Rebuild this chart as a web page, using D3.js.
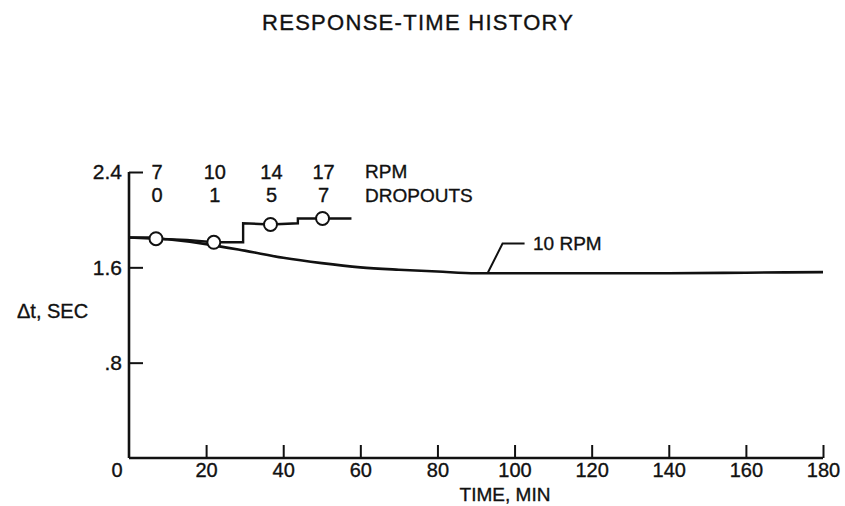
<!DOCTYPE html>
<html>
<head>
<meta charset="utf-8">
<script src="https://cdn.jsdelivr.net/npm/d3@7"></script>
<style>
  html, body { margin: 0; padding: 0; background: #fff; }
  svg { display: block; }
  text { font-family: "Liberation Sans", "DejaVu Sans", sans-serif; fill: #111; stroke: #111; stroke-width: 0.35; }
</style>
</head>
<body>
<svg id="chart" width="845" height="506"></svg>
<script>
// Response time vs. elapsed time at a constant 10 RPM
const curveTime  = [0, 5, 10, 20, 30, 40, 50, 60, 70, 80, 90, 100, 120, 140, 160, 180];
const curveDelta = [1.85, 1.85, 1.835, 1.795, 1.74, 1.68, 1.635, 1.60, 1.58, 1.565, 1.55, 1.55, 1.55, 1.55, 1.555, 1.56];

// Stepped run with increasing speed (time, Δt) and the measured points on it
const stepTime  = [0, 7, 15, 22, 29.6, 29.6, 36.7, 43.8, 43.8, 50.2, 57.7];
const stepDelta = [1.85, 1.84, 1.83, 1.81, 1.81, 1.97, 1.96, 1.97, 2.01, 2.01, 2.01];
const pointTime  = [7, 22, 36.7, 50.2];
const pointDelta = [1.84, 1.81, 1.96, 2.01];

// Speed and dropout counts written above each measured point
const rpmLabels     = ["7", "10", "14", "17"];
const dropoutLabels = ["0", "1", "5", "7"];

// Axis ticks
const xTicks = [20, 40, 60, 80, 100, 120, 140, 160, 180];
const yTicks = [0.8, 1.6, 2.4];
const yTickLabels = [".8", "1.6", "2.4"];

const svg = d3.select("#chart");
const x = d3.scaleLinear().domain([0, 180]).range([129, 823]);
const y = d3.scaleLinear().domain([0, 2.4]).range([458, 172]);
const FS = 20;

// Title
svg.append("text").attr("x", 262).attr("y", 30)
  .attr("font-size", 22).attr("textLength", 311).attr("lengthAdjust", "spacing")
  .text("RESPONSE-TIME HISTORY");

// X axis, ticks pointing up into the plot
const xAxis = svg.append("g").attr("transform", `translate(0,${y(0)})`)
  .call(d3.axisBottom(x).tickValues(xTicks).tickSize(-13).tickPadding(5).tickFormat(d3.format("d")));
xAxis.select(".domain").attr("d", `M${x(0)},0H${x(180)}`).attr("stroke", "#111").attr("stroke-width", 2.6);
xAxis.selectAll(".tick line").attr("stroke", "#111").attr("stroke-width", 2);
xAxis.selectAll(".tick text").attr("font-size", FS).attr("font-family", null).attr("fill", "#111");
xAxis.append("text").attr("x", x(0) - 12).attr("y", 5).attr("dy", "0.71em")
  .attr("text-anchor", "middle").attr("font-size", FS).text("0");

// Y axis, ticks pointing right into the plot
const yAxis = svg.append("g").attr("transform", `translate(${x(0)},0)`)
  .call(d3.axisLeft(y).tickValues(yTicks).tickSize(-14).tickPadding(7)
    .tickFormat((d, i) => yTickLabels[i]));
yAxis.select(".domain").attr("d", `M0,${y(0)}V${y(2.4)}`).attr("stroke", "#111").attr("stroke-width", 2.6);
yAxis.selectAll(".tick line").attr("stroke", "#111").attr("stroke-width", 2);
yAxis.selectAll(".tick text").attr("font-size", 21).attr("font-family", null).attr("fill", "#111");

// Axis titles
svg.append("text").attr("x", 17).attr("y", 318).attr("font-size", 20).text("Δt, SEC");
svg.append("text").attr("x", 505).attr("y", 501).attr("text-anchor", "middle")
  .attr("font-size", 19).text("TIME, MIN");

// 10 RPM curve
const line = d3.line().x(d => x(d[0])).y(d => y(d[1])).curve(d3.curveMonotoneX);
svg.append("path").datum(curveTime.map((t, i) => [t, curveDelta[i]]))
  .attr("d", line).attr("fill", "none").attr("stroke", "#111").attr("stroke-width", 2.6);

// Stepped run
const stepLine = d3.line().x(d => x(d[0])).y(d => y(d[1]));
svg.append("path").datum(stepTime.map((t, i) => [t, stepDelta[i]]))
  .attr("d", stepLine).attr("fill", "none").attr("stroke", "#111").attr("stroke-width", 2.4);

svg.selectAll("circle.pt").data(pointTime.map((t, i) => [t, pointDelta[i]]))
  .join("circle").attr("class", "pt")
  .attr("cx", d => x(d[0])).attr("cy", d => y(d[1])).attr("r", 6.5)
  .attr("fill", "#fff").attr("stroke", "#111").attr("stroke-width", 2);

// Speed / dropout rows above the points
svg.selectAll("text.rpm").data(rpmLabels).join("text").attr("class", "rpm")
  .attr("x", (d, i) => x(pointTime[i]) + 1).attr("y", 179).attr("text-anchor", "middle")
  .attr("font-size", 20).text(d => d);
svg.selectAll("text.drop").data(dropoutLabels).join("text").attr("class", "drop")
  .attr("x", (d, i) => x(pointTime[i]) + 1).attr("y", 202).attr("text-anchor", "middle")
  .attr("font-size", 20).text(d => d);
svg.append("text").attr("x", 365).attr("y", 178).attr("font-size", 19).text("RPM");
svg.append("text").attr("x", 365).attr("y", 202).attr("font-size", 19).text("DROPOUTS");

// Leader to the curve label
const lx = 93;
svg.append("path")
  .attr("d", `M${x(lx)},${y(1.55)}L${x(lx) + 15},${y(1.8)}H${x(lx) + 37}`)
  .attr("fill", "none").attr("stroke", "#111").attr("stroke-width", 2);
svg.append("text").attr("x", 533).attr("y", 250).attr("font-size", 19).text("10 RPM");
</script>
</body>
</html>
